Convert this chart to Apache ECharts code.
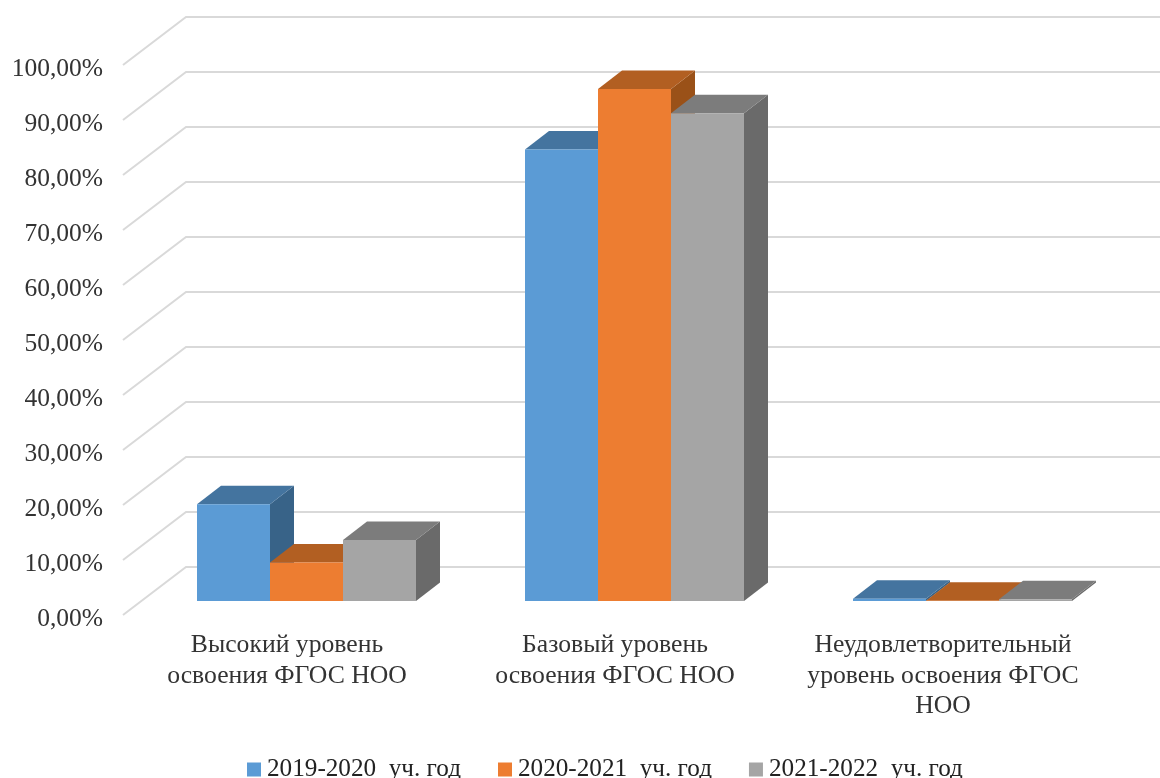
<!DOCTYPE html>
<html><head><meta charset="utf-8">
<style>html,body{margin:0;padding:0;background:#fff}#c{width:1160px;height:778px}</style>
<script src="https://cdn.jsdelivr.net/npm/echarts@6/dist/echarts.min.js"></script>
</head><body><div id="c"></div>
<script>
const categories = ['Высокий уровень\nосвоения ФГОС НОО','Базовый уровень\nосвоения ФГОС НОО','Неудовлетворительный\nуровень освоения ФГОС\nНОО'];
const seriesNames = ['2019-2020  уч. год','2020-2021  уч. год','2021-2022  уч. год'];
const values2019 = [17.6, 82.1, 0.4];
const values2020 = [7.0, 93.1, 0.05];
const values2021 = [11.1, 88.7, 0.3];
const yTicks = [0,10,20,30,40,50,60,70,80,90,100];
const frontColors = ['#5B9BD5','#ED7D31','#A5A5A5'];
const topColors = ['#44749F','#B25F22','#7C7C7C'];
const sideColors = ['#386388','#9A5118','#6A6A6A'];

const wallDx = 63, wallDy = 48;
const barOffX = 19.5, barOffY = 14, barDepthX = 24, barDepthY = 18.5, barW = 73;

function barItem(idx){
  return function(params, api){
    const p = api.coord([api.value(0), api.value(1)]);
    const b = api.coord([api.value(0), 0]);
    const xl = p[0] + barOffX + (idx - 1.5) * barW;
    const xr = xl + barW;
    const yt = p[1] - barOffY, yb = b[1] - barOffY;
    return {type:'group', children:[
      {type:'polygon', shape:{points:[[xr,yb],[xr+barDepthX,yb-barDepthY],[xr+barDepthX,yt-barDepthY],[xr,yt]]}, style:{fill:sideColors[idx]}},
      {type:'polygon', shape:{points:[[xl,yt],[xl+barDepthX,yt-barDepthY],[xr+barDepthX,yt-barDepthY],[xr,yt]]}, style:{fill:topColors[idx]}},
      {type:'rect', shape:{x:xl,y:yt,width:barW,height:yb-yt}, style:{fill:frontColors[idx]}}
    ]};
  };
}
function wallLine(params, api){
  const p = api.coord([0, api.value(1)]);
  const cs = params.coordSys;
  return {type:'polyline', shape:{points:[[cs.x,p[1]],[cs.x+wallDx,p[1]-wallDy],[cs.x+cs.width+wallDx,p[1]-wallDy]]},
    style:{fill:'none',stroke:'#D9D9D9',lineWidth:2}};
}
const valueSets = [values2019, values2020, values2021];
const chart = echarts.init(document.getElementById('c'));
chart.setOption({
  animation:false,
  backgroundColor:'#fff',
  textStyle:{fontFamily:'"Liberation Serif"'},
  grid:{left:123, top:65, width:984, height:550, containLabel:false},
  xAxis:{type:'category', data:categories, axisLine:{show:false}, axisTick:{show:false}, splitLine:{show:false},
    axisLabel:{interval:0, margin:15.5, fontSize:25.7, lineHeight:30.5, color:'#333', fontFamily:'"Liberation Serif"'}},
  yAxis:{type:'value', min:0, max:100, interval:10, axisLine:{show:false}, axisTick:{show:false}, splitLine:{show:false},
    axisLabel:{margin:20, fontSize:25.5, color:'#333', padding:[6,0,0,0], verticalAlign:'middle', lineHeight:38, fontFamily:'"Liberation Serif"', formatter:v=>'{t|'+v.toFixed(2).replace('.',',')+'%}',
      rich:{t:{fontSize:25.5, color:'#333', fontFamily:'"Liberation Serif"', padding:[2,0,0,0]}}}},
  legend:{data:seriesNames.map((n,i)=>({name:n, icon:'rect', itemStyle:{color:frontColors[i]}})), left:242, top:752, itemWidth:14, itemHeight:14, itemGap:37,
    textStyle:{fontSize:25.2, color:'#222', fontFamily:'"Liberation Serif"', padding:[0,0,0,1]}},
  series:[
    {type:'custom', name:'grid', silent:true, z:1, renderItem:wallLine, data:yTicks.map(v=>[0,v]), encode:{x:0,y:1}},
    ...seriesNames.map((n,i)=>({type:'custom', name:n, z:2+i, renderItem:barItem(i), itemStyle:{color:frontColors[i]},
      data:valueSets[i].map((v,k)=>[k,v]), encode:{x:0,y:1}}))
  ]
});
</script></body></html>
